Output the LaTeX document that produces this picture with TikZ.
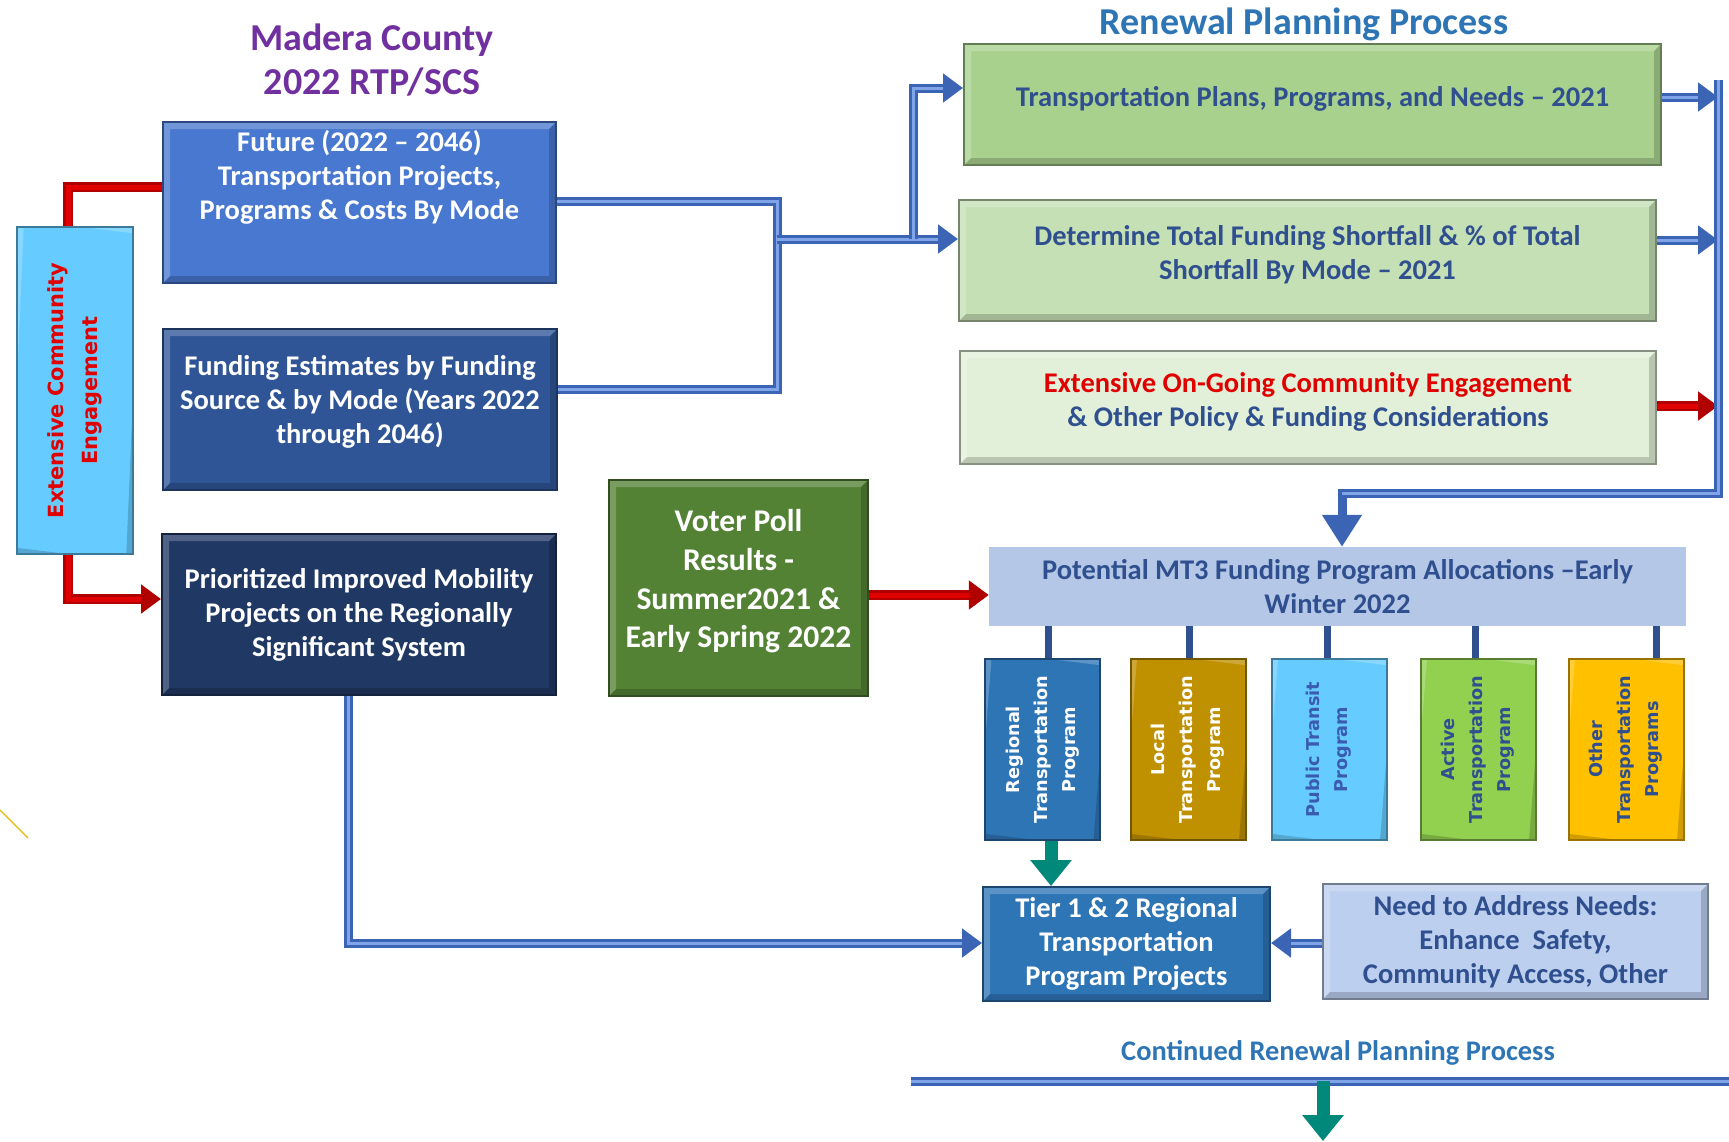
\documentclass[tikz,border=0pt]{standalone}
\usepackage{fontspec}
\setmainfont{Carlito}
\newfontfamily\vfont{DejaVu Sans}
\usetikzlibrary{arrows.meta}
\definecolor{cFut}{HTML}{4878CF}
\definecolor{cFund}{HTML}{2F5597}
\definecolor{cPrio}{HTML}{203864}
\definecolor{cCyan}{HTML}{66CCFF}
\definecolor{cRed}{HTML}{E00000}
\definecolor{cRedD}{HTML}{B00000}
\definecolor{cVoter}{HTML}{548235}
\definecolor{cGa}{HTML}{A9D18E}
\definecolor{cGb}{HTML}{C5E0B4}
\definecolor{cGc}{HTML}{E2F0D9}
\definecolor{cMT}{HTML}{B4C7E7}
\definecolor{cReg}{HTML}{2E75B6}
\definecolor{cLoc}{HTML}{BF9000}
\definecolor{cPub}{HTML}{66CCFF}
\definecolor{cAct}{HTML}{92D050}
\definecolor{cOth}{HTML}{FFC000}
\definecolor{cNeed}{HTML}{BCCFEE}
\definecolor{cTxt}{HTML}{2F4F8F}
\definecolor{cPubT}{HTML}{3A5BB0}
\definecolor{cPurple}{HTML}{7030A0}
\definecolor{cTitle}{HTML}{2E75B6}
\definecolor{pipeD}{HTML}{3C64B4}
\definecolor{pipeL}{HTML}{7FA5E8}
\definecolor{cTeal}{HTML}{00897B}
\definecolor{cGold}{HTML}{E6B800}
\newcommand\bodyf{\fontsize{28.5}{34}\selectfont\bfseries}
\newcommand\vertf{\vfont\fontsize{17.7}{28}\selectfont\bfseries}
\begin{document}
\begin{tikzpicture}[x=1pt,y=-1pt,
  bevel/.style={path picture={
     \fill[white,opacity=0.22] (path picture bounding box.north west) -- (path picture bounding box.north east)
       -- ([xshift=-7pt,yshift=-7pt]path picture bounding box.north east) -- ([xshift=7pt,yshift=-7pt]path picture bounding box.north west)
       -- ([xshift=7pt,yshift=7pt]path picture bounding box.south west) -- (path picture bounding box.south west) -- cycle;
     \fill[black,opacity=0.18] (path picture bounding box.south east) -- (path picture bounding box.south west)
       -- ([xshift=7pt,yshift=7pt]path picture bounding box.south west) -- ([xshift=-7pt,yshift=7pt]path picture bounding box.south east)
       -- ([xshift=-7pt,yshift=-7pt]path picture bounding box.north east) -- (path picture bounding box.north east) -- cycle;}},
  box/.style={fill=#1, draw=#1!60!black, line width=2pt, inner sep=0pt, align=center, font=\bodyf, bevel},
  vbox/.style={fill=#1, draw=#1!60!black, line width=2pt, inner sep=0pt, align=center, rotate=90,
     minimum width=181pt, minimum height=115pt, font=\vertf, bevel},
  pipe/.style={line width=9pt, draw=pipeD, postaction={draw=pipeL, line width=3pt}},
  pipearrow/.style={line width=9pt, draw=pipeD, -{Triangle[length=20pt,width=28pt]},
     postaction={draw=pipeL, line width=3pt, -, shorten >=20pt}},
  redpipe/.style={line width=10pt, draw=cRedD, postaction={draw=cRed, line width=5pt}},
  redarrow/.style={line width=10pt, draw=cRedD, -{Triangle[length=20pt,width=28pt]},
     postaction={draw=cRed, line width=5pt, -, shorten >=20pt}},
  tealarrow/.style={line width=13pt, draw=cTeal, -{Triangle[length=26pt,width=40pt]}},
  stub/.style={line width=7pt, draw=cTxt}]
\useasboundingbox (0,0) rectangle (1729,1141);

% titles
\node[font=\fontsize{38}{44}\selectfont\bfseries, text=cPurple, align=center] (title) at (372,60) {Madera County\\2022 RTP/SCS};
\node[font=\fontsize{38}{44}\selectfont\bfseries, text=cTitle] (renew) at (1304,24) {Renewal Planning Process};

% left boxes
\node[box=cFut, minimum width=393pt, minimum height=161pt, text=white] (fut) at (359.5,202.5)
  {Future (2022 – 2046)\\Transportation Projects,\\Programs \& Costs By Mode\\[21pt]\mbox{}};
\node[box=cFund, minimum width=394pt, minimum height=161pt, text=white] (fund) at (360,409.5)
  {Funding Estimates by Funding\\Source \& by Mode (Years 2022\\through 2046)\\[-14pt]\mbox{}};
\node[box=cPrio, minimum width=394pt, minimum height=161pt, text=white] (prio) at (359,614.5)
  {Prioritized Improved Mobility\\Projects on the Regionally\\Significant System};
\node[box=cCyan, rotate=90, minimum width=327pt, minimum height=116pt, text=cRed,
  font=\vfont\fontsize{20.9}{34}\selectfont\bfseries] (ece) at (75,390.5)
  {Extensive Community\\Engagement};
\node[box=cVoter, minimum width=259pt, minimum height=216pt, text=white,
  font=\fontsize{31.6}{38.6}\selectfont\bfseries] (voter) at (738.5,588)
  {Voter Poll\\Results -\\Summer2021 \&\\Early Spring 2022\\[-20pt]\mbox{}};

% right boxes
\node[box=cGa, minimum width=697pt, minimum height=121pt, text=cTxt] (plans) at (1312.5,104.5)
  {Transportation Plans, Programs, and Needs – 2021\\[-18pt]\mbox{}};
\node[box=cGb, minimum width=697pt, minimum height=121pt, text=cTxt] (det) at (1307.5,260.5)
  {Determine Total Funding Shortfall \& \% of Total\\Shortfall By Mode – 2021\\[-18pt]\mbox{}};
\node[box=cGc, minimum width=696pt, minimum height=113pt, text=cTxt] (ongo) at (1308,407.5)
  {\textcolor{cRed}{Extensive On-Going Community Engagement}\\\& Other Policy \& Funding Considerations\\[-18pt]\mbox{}};
\node[fill=cMT, minimum width=697pt, minimum height=79pt, inner sep=0pt, text=cTxt, align=center, font=\bodyf] (mt3) at (1337.5,586.5)
  {Potential MT3 Funding Program Allocations –Early\\Winter 2022};

% program boxes
\node[vbox=cReg, text=white] (reg) at (1042.5,749.5) {Regional\\Transportation\\Program};
\node[vbox=cLoc, text=white] (loc) at (1188,749.5) {Local\\Transportation\\Program};
\node[vbox=cPub, text=cPubT] (pub) at (1329,749.5) {Public Transit\\Program};
\node[vbox=cAct, text=cTxt] (act) at (1478,749.5) {Active\\Transportation\\Program};
\node[vbox=cOth, text=cTxt] (oth) at (1626,749.5) {Other\\Transportation\\Programs};

\node[box=cReg, minimum width=287pt, minimum height=114pt, text=white] (tier) at (1126.5,944)
  {Tier 1 \& 2 Regional\\Transportation\\Program Projects};
\node[box=cNeed, minimum width=385pt, minimum height=115pt, text=cTxt] (need) at (1515.5,941.5)
  {Need to Address Needs:\\Enhance~~Safety,\\Community Access, Other};

\node[font=\fontsize{28.4}{32}\selectfont\bfseries, text=cTitle] (cont) at (1338,1053) {Continued Renewal Planning Process};

% stubs
\foreach \b/\x in {reg/1048,loc/1189,pub/1327,act/1475,oth/1656}
  \draw[stub] (mt3.south -| \x,0) -- (\b.east -| \x,0);

% left bracket and arrows to green boxes
\coordinate (jL) at (777,239);
\coordinate (jU) at (913,239);
\draw[pipe] (fut.east |- 0,201) -| (777,389) -- (fund.east |- 0,389);
\draw[pipearrow] (jL) -- (det.west |- jL);
\draw[pipearrow] (jU) |- (plans.west |- 0,88);

% right collector
\coordinate (rt) at (1718,80);
\coordinate (rb) at (1718,493);
\draw[pipearrow] (plans.east |- 0,97) -- (rt |- 0,97);
\draw[pipearrow] (det.east |- 0,240) -- (rt |- 0,240);
\draw[redarrow] (ongo.east |- 0,406) -- (rt |- 0,406);
\draw[line width=9pt, draw=pipeD, -{Triangle[length=32pt,width=38pt]}] (rt) -- (rb) -| (mt3.north -| 1342,0);
\draw[pipeL, line width=3pt] (rt) -- (rb) -- (1342,493);

% red engagement links
\draw[redpipe] (ece.east -| 68,0) |- (fut.west |- 0,187);
\draw[redarrow] (ece.west -| 68,0) |- (prio.west |- 0,599);
\draw[redarrow] (voter.east |- 0,595) -- (mt3.west |- 0,595);

% to tier
\draw[pipearrow] (prio.south -| 348,0) |- (tier.west |- 0,943);
\draw[pipearrow] (need.west |- 0,943) -- (tier.east |- 0,943);
\draw[tealarrow] (reg.west -| 1051,0) -- (tier.north -| 1051,0);

% bottom line
\coordinate (bl) at (911,1081);
\coordinate (br) at (1729,1081);
\coordinate (bm) at (1323,1081);
\coordinate (bend) at (1323,1141);
\draw[pipe] (bl) -- (br);
\draw[tealarrow] (bm) -- (bend);

% stray gold line
\coordinate (ga) at (0,810);
\coordinate (gb) at (28,838);
\draw[cGold, line width=1.2pt] (ga) -- (gb);
\end{tikzpicture}
\end{document}
